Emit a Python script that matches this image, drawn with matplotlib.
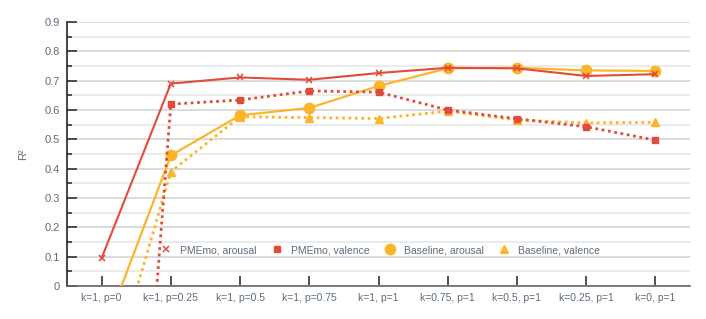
import matplotlib
matplotlib.use("Agg")
import matplotlib.pyplot as plt
from matplotlib.ticker import MultipleLocator

categories = ["k=1, p=0", "k=1, p=0.25", "k=1, p=0.5", "k=1, p=0.75", "k=1, p=1",
              "k=0.75, p=1", "k=0.5, p=1", "k=0.25, p=1", "k=0, p=1"]
pmemo_arousal = [0.095, 0.69, 0.711, 0.703, 0.726, 0.744, 0.742, 0.716, 0.722]
pmemo_valence = [-2.45, 0.62, 0.634, 0.665, 0.661, 0.600, 0.570, 0.543, 0.497]
base_arousal = [-0.18, 0.445, 0.582, 0.607, 0.682, 0.742, 0.744, 0.735, 0.733]
base_valence = [-0.42, 0.39, 0.577, 0.574, 0.571, 0.596, 0.566, 0.556, 0.558]

RED = "#e24a3b"
ORANGE = "#fcb52a"
TXT = "#5b6b7b"

plt.rcParams['font.family'] = ['Liberation Sans', 'DejaVu Sans']

fig = plt.figure(figsize=(7.06, 3.19), dpi=100)
ax = fig.add_axes([67/706, 33/319, 623/706, 264/319])

x = list(range(len(categories)))
ax.plot(x, pmemo_arousal, color=RED, lw=1.5, marker='x', ms=4, mew=1.1,
        label="PMEmo, arousal", zorder=4)
ax.plot(x, pmemo_valence, color=RED, lw=2, ls=(0, (1, 1.3)), marker='s', ms=5,
        label="PMEmo, valence", zorder=4)
ax.plot(x, base_arousal, color=ORANGE, lw=1.6, marker='o', ms=7.5,
        label="Baseline, arousal", zorder=3)
ax.plot(x, base_valence, color=ORANGE, lw=2, ls=(0, (1, 1.3)), marker='^', ms=6,
        label="Baseline, valence", zorder=3)

ax.set_xlim(-0.5, len(categories) - 0.5)
ax.set_ylim(0, 0.9)
ax.yaxis.set_minor_locator(MultipleLocator(0.05))
ax.set_yticks([i / 10 for i in range(10)])
ax.set_yticklabels(["0"] + [f"{i/10:.1f}" for i in range(1, 10)])
ax.set_xticks(x)
ax.set_xticklabels(categories)

ax.grid(axis='y', which='major', color='#d4d4d4', lw=1.2)
ax.grid(axis='y', which='minor', color='#e8e8e8', lw=1.2)
ax.set_axisbelow(True)

for s in ['top', 'right']:
    ax.spines[s].set_visible(False)
ax.spines['left'].set_color('#222222')
ax.spines['bottom'].set_color('#666666')
ax.spines['left'].set_linewidth(1.2)
ax.spines['bottom'].set_linewidth(1.2)

ax.tick_params(axis='y', which='major', direction='in', length=7.2, width=1.2,
               color='#333333', labelsize=8, labelcolor=TXT, pad=5)
ax.tick_params(axis='y', which='minor', direction='in', length=3.6, width=1.2,
               color='#333333')
ax.tick_params(axis='x', which='major', direction='in', length=7.2, width=1.2,
               color='#333333', labelsize=7.5, labelcolor=TXT, pad=5)

ax.set_ylabel("R²", color=TXT, fontsize=8, labelpad=12)

leg = ax.legend(loc='center', bbox_to_anchor=(0.503, 0.136), ncol=4, frameon=False,
                fontsize=7.5, handlelength=1.0, columnspacing=1.5, handletextpad=0.8)
for t in leg.get_texts():
    t.set_color(TXT)
for h in leg.legend_handles:
    h.set_linestyle('None')

fig.savefig("out.png", dpi=100)
